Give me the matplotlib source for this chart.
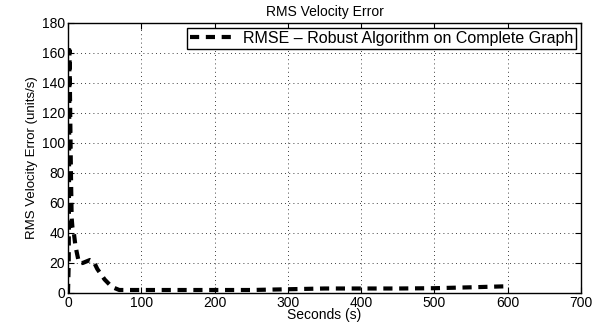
import numpy as np
import matplotlib
matplotlib.use('Agg')
from matplotlib import pyplot as plt

# RMS velocity error over time
seconds = [0, 1, 2, 3, 4, 5, 6, 8, 10, 12, 15, 20, 25, 30, 35, 40, 50, 60, 70, 80,
           100, 150, 200, 250, 300, 350, 400, 450, 500, 550, 600]
rmse = [0, 20, 162, 120, 80, 50, 44, 40, 32, 27, 20, 20, 21, 22, 21, 16, 9, 4, 2, 2,
        2, 2, 2, 2, 2.5, 3, 3, 3, 3.2, 3.8, 4.5]

plt.rcParams['font.family'] = ['Liberation Sans', 'DejaVu Sans']

figure = plt.figure(figsize=(6.02, 3.23), dpi=100)
axes1 = figure.add_axes([68 / 602, 30 / 323, 513 / 602, 270 / 323])

axes1.plot(seconds, rmse, color='black', linestyle=(0, (2.2, 1.6)), linewidth=3,
           label='RMSE \u2013 Robust Algorithm on Complete Graph')

axes1.set_xlim(0, 700)
axes1.set_ylim(0, 180)
axes1.set_xticks(np.arange(0, 701, 100))
axes1.set_yticks(np.arange(0, 181, 20))
axes1.grid(True, linestyle=(0, (1, 4)), color='black', linewidth=0.6)
axes1.tick_params(direction='in', top=True, right=True, labelsize=10, length=4, pad=2)
for s in axes1.spines.values():
    s.set_linewidth(1.0)

axes1.set_title('RMS Velocity Error', fontsize=10, pad=5)
axes1.set_xlabel('Seconds (s)', fontsize=10, labelpad=-1)
axes1.set_ylabel('RMS Velocity Error (units/s)', fontsize=9.5, labelpad=3)

leg = axes1.legend(loc='upper right', fontsize=11.5, fancybox=False, framealpha=1,
                   edgecolor='black', borderaxespad=0.3, handlelength=2.9,
                   borderpad=0.2, handletextpad=0.4)
leg.get_frame().set_linewidth(1.0)

plt.savefig('out.png', dpi=100)
plt.close()
